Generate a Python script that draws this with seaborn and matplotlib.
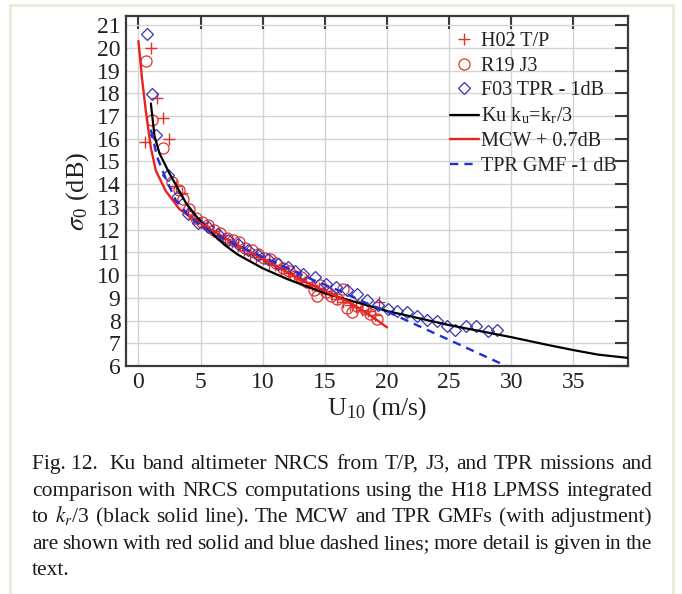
import numpy as np
import pandas as pd
import matplotlib
matplotlib.use("Agg")
import matplotlib.pyplot as plt
import seaborn as sns
from matplotlib.patches import Rectangle

# ---------------- data ----------------
h02_x = [0.5, 1.0, 1.5, 2.0, 2.5, 3.0, 3.5, 4.0, 4.5, 5.0, 5.5, 6.0, 6.5, 7.0, 7.5,
         8.0, 8.5, 9.0, 9.5, 10.0, 10.5, 11.0, 11.5, 12.0, 12.5, 13.0, 13.5, 14.0,
         14.5, 15.0, 15.5, 16.0, 16.5, 17.0, 17.5, 18.0, 18.5, 19.0, 19.4]
h02_y = [15.86, 20.0, 17.77, 16.93, 16.0, 13.9, 13.6, 12.8, 12.5, 12.3, 12.15, 11.95,
         11.75, 11.6, 11.45, 11.3, 11.1, 10.95, 10.8, 10.7, 10.55, 10.45, 10.25, 10.1,
         9.95, 9.85, 9.7, 9.55, 9.45, 9.3, 9.2, 8.95, 8.8, 8.7, 8.6, 8.45, 8.4, 8.25, 8.81]

r19_x = [0.6, 1.13, 2.0, 2.7, 3.25, 3.6, 4.1, 4.6, 5.1, 5.6, 6.1, 6.6, 7.1, 7.6, 8.1,
         8.6, 9.1, 9.6, 10.1, 10.6, 11.1, 11.6, 12.1, 12.6, 13.1, 13.6, 14.1, 14.4,
         14.6, 15.1, 15.5, 16.0, 16.5, 16.8, 17.2, 17.6, 18.2, 18.6, 19.17]
r19_y = [19.41, 16.82, 15.57, 14.1, 13.73, 13.36, 12.9, 12.5, 12.35, 12.2, 12.0, 11.85,
         11.65, 11.55, 11.45, 11.2, 11.1, 10.95, 10.75, 10.7, 10.55, 10.3, 10.2, 9.95,
         9.9, 9.7, 9.33, 9.07, 9.55, 9.25, 9.1, 8.95, 9.38, 8.55, 8.37, 8.65, 8.52, 8.3, 8.08]

f03_x = [0.71, 1.06, 1.38, 2.37, 3.07, 3.95, 4.83, 5.6, 6.4, 7.2, 8.0, 8.8, 9.6, 10.4,
         11.2, 12.0, 12.6, 13.25, 14.2, 15.1, 15.9, 16.75, 17.56, 18.36, 19.3, 20.1,
         20.8, 21.6, 22.4, 23.2, 24.0, 24.8, 25.5, 26.35, 27.2, 28.1, 28.85]
f03_y = [20.59, 17.99, 16.15, 14.39, 13.44, 12.7, 12.3, 12.1, 11.8, 11.55, 11.35, 11.1,
         10.9, 10.7, 10.5, 10.35, 10.2, 10.06, 9.91, 9.62, 9.47, 9.33, 9.18, 8.89, 8.67,
         8.52, 8.44, 8.37, 8.22, 8.03, 8.0, 7.78, 7.59, 7.78, 7.78, 7.56, 7.59]

ku_x = [1.0, 1.3, 1.7, 2.5, 3.85, 5.0, 6.0, 7.0, 8.0, 10.0, 12.0, 15.0, 20.0, 25.0,
        30.0, 33.0, 35.0, 37.0, 39.5]
ku_y = [17.55, 16.1, 15.35, 14.47, 13.15, 12.35, 11.8, 11.3, 10.9, 10.3, 9.82, 9.2,
        8.42, 7.8, 7.27, 6.92, 6.7, 6.5, 6.35]

mcw_x = [0.0, 0.3, 0.6, 0.8, 1.0, 1.4, 2.2, 3.3, 4.6, 6.0, 8.0, 10.0, 12.0, 13.0,
         14.0, 15.0, 16.0, 17.0, 18.0, 19.0, 20.0]
mcw_y = [20.3, 18.6, 17.2, 16.4, 15.6, 14.6, 13.7, 12.9, 12.4, 11.95, 11.3, 10.72,
         10.12, 9.82, 9.55, 9.3, 9.05, 8.8, 8.45, 8.1, 7.7]

tpr_x = [1.0, 1.5, 2.2, 3.0, 4.1, 5.0, 6.0, 8.0, 10.0, 12.0, 14.0, 16.0, 18.0, 20.0,
         22.0, 24.0, 26.0, 28.0, 29.8]
tpr_y = [16.4, 15.2, 14.25, 13.3, 12.56, 12.2, 11.85, 11.3, 10.8, 10.3, 9.8, 9.35,
         8.85, 8.4, 7.9, 7.4, 6.9, 6.4, 5.95]

x_ticks = [0, 5, 10, 15, 20, 25, 30, 35]
y_ticks = list(range(6, 22))

labels = ["H02 T/P", "R19 J3", "F03 TPR - 1dB",
          r"Ku k$_{\mathregular{u}}$=k$_{\mathregular{r}}$/3",
          "MCW + 0.7dB", "TPR GMF -1 dB"]

caption_lines = [
    "Fig. 12.  Ku band altimeter NRCS from T/P, J3, and TPR missions and",
    "comparison with NRCS computations using the H18 LPMSS integrated",
    r"to $k_r$/3 (black solid line). The MCW and TPR GMFs (with adjustment)",
    "are shown with red solid and blue dashed lines; more detail is given in the",
    "text.",
]

# ---------------- style ----------------
sns.set_theme(style="white")
plt.rcParams["font.family"] = ["Liberation Serif", "DejaVu Serif"]
plt.rcParams["mathtext.fontset"] = "stix"
plt.rcParams["xtick.direction"] = "in"
plt.rcParams["ytick.direction"] = "in"

W, H = 682, 594
fig = plt.figure(figsize=(W / 100, H / 100), dpi=100)
fig.patch.set_facecolor("white")
fig.add_artist(Rectangle((10 / W, -0.02), 663 / W, 1 - 5 / H + 0.02,
                         transform=fig.transFigure, fill=False,
                         edgecolor="#ecebdc", linewidth=2.2))

ax = fig.add_axes([126 / W, 1 - 366 / H, 502 / W, 350 / H])

red = "#e8231f"
mk_red = "#e0332e"
blue_mk = "#3535b5"
blue_ln = "#1f2fd6"

def pts(x, y, marker, color, label, ms, mew=0.9):
    d = pd.DataFrame({"x": x, "y": y})
    sns.lineplot(data=d, x="x", y="y", ax=ax, estimator=None, sort=False,
                 linestyle="none", marker=marker, markersize=ms,
                 markerfacecolor="none", markeredgecolor=color,
                 markeredgewidth=mew, color=color, label=label, zorder=3)

pts(h02_x, h02_y, "+", mk_red, labels[0], 8, 1.0)
pts(r19_x, r19_y, "o", mk_red, labels[1], 8)
pts(f03_x, f03_y, "D", blue_mk, labels[2], 6.5)

sns.lineplot(x=ku_x, y=ku_y, ax=ax, estimator=None, sort=False, color="black",
             linewidth=1.6, label=labels[3], zorder=4)
sns.lineplot(x=mcw_x, y=mcw_y, ax=ax, estimator=None, sort=False, color=red,
             linewidth=1.7, label=labels[4], zorder=4)
sns.lineplot(x=tpr_x, y=tpr_y, ax=ax, estimator=None, sort=False, color=blue_ln,
             linewidth=1.7, label=labels[5], zorder=4, dashes=False)
ax.lines[-1].set_dashes((3.5, 2.6))

ax.set_xlim(-1.0, 39.4)
ax.set_ylim(6, 21.4)
ax.set_xticks(x_ticks)
ax.set_yticks(y_ticks)
ax.grid(True, color="#d4d4d4", linewidth=1.0)
ax.set_axisbelow(True)
for s in ax.spines.values():
    s.set_color("#3a3a3a")
    s.set_linewidth(1.6)
ax.tick_params(axis="both", which="major", length=9.5, width=1.5, color="#3a3a3a",
               top=True, right=True, labelsize=17, pad=4, labelcolor="#222222")
ax.set_xlabel(r"U$_{\mathregular{10}}$ (m/s)", fontsize=18.5, labelpad=2, color="#222222")
ax.set_ylabel(r"$\sigma_{\mathregular{0}}$ (dB)", fontsize=19, labelpad=4, color="#222222")

leg = ax.legend(loc="upper left", bbox_to_anchor=(0.645, 0.955), frameon=False,
                fontsize=14.5, handlelength=1.45, handletextpad=0.1,
                labelspacing=0.28, borderpad=0, borderaxespad=0)
for t in leg.get_texts():
    t.set_color("#222222")

# ---------------- caption (justified) ----------------
fig.canvas.draw()
r = fig.canvas.get_renderer()
fs = 15.5
x0, x1 = 32, 652
baselines = [469, 496, 522, 549, 575]
for i, line in enumerate(caption_lines):
    y = 1 - baselines[i] / H
    if i == len(caption_lines) - 1:
        fig.text(x0 / W, y, line, fontsize=fs, va="baseline", ha="left", color="#1a1a1a")
        continue
    if line.startswith("Fig. 12."):
        words = ["Fig. 12. "] + line[len("Fig. 12.  "):].split(" ")
    else:
        words = line.split(" ")
    texts = [fig.text(0, y, w, fontsize=fs, va="baseline", ha="left", color="#1a1a1a")
             for w in words]
    widths = [t.get_window_extent(r).width for t in texts]
    gap = (x1 - x0 - sum(widths)) / (len(words) - 1)
    xp = x0
    for t, wd in zip(texts, widths):
        t.set_x(xp / W)
        xp += wd + gap

fig.savefig("out.png", dpi=100)
